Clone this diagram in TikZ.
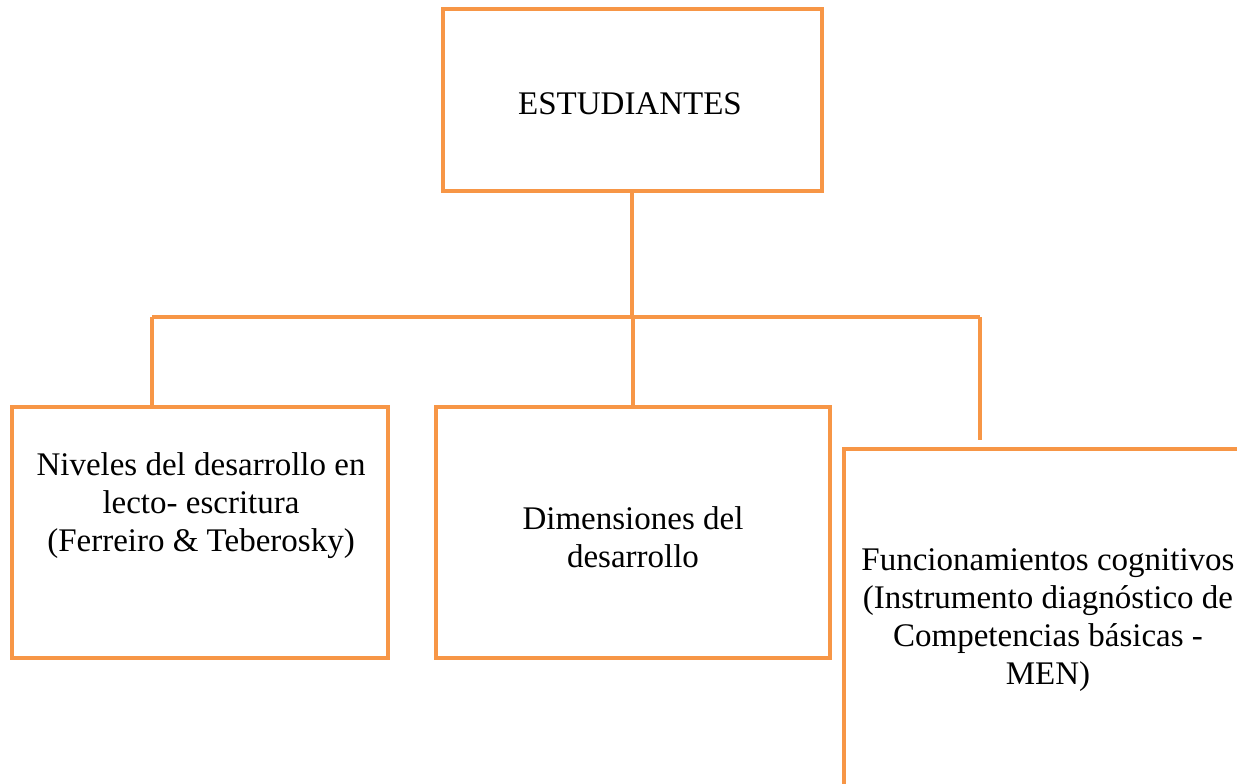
\documentclass[tikz,border=0pt]{standalone}
\usepackage{fontspec}
\setmainfont{Liberation Serif}
\definecolor{naranja}{HTML}{F79646}
\tikzset{
  caja/.style={draw=naranja, line width=4pt, rectangle, inner sep=0pt},
  rama/.style={draw=naranja, line width=4pt},
  texto/.style={align=center, inner sep=0pt, font=\fontsize{33}{38}\selectfont}
}

\begin{document}
\begin{tikzpicture}[x=1pt,y=-1pt]
        \useasboundingbox (0,0) rectangle (1237,784);
        \clip (0,0) rectangle (1237,784);

        % cajas
        \node[caja, minimum width=379pt, minimum height=182pt] (estudiantes) at (632,100) {};
        \node[caja, minimum width=376pt, minimum height=251pt] (niveles) at (200,532) {};
        \node[caja, minimum width=394pt, minimum height=251pt] (dimensiones) at (633,532) {};
        \node[caja, minimum width=408pt, minimum height=342pt] (funcionamientos) at (1048,620) {};

        % textos
        \node[texto] (tEstudiantes) at (630,104) {ESTUDIANTES};
        \node[texto] (tNiveles) at (201,506) {Niveles del desarrollo en\\lecto- escritura\\(Ferreiro \& Teberosky)};
        \node[texto] (tDimensiones) at (633,537) {Dimensiones del\\desarrollo};
        \node[texto] (tFuncionamientos) at (1048,620) {Funcionamientos cognitivos\\(Instrumento diagnóstico de\\Competencias básicas -\\MEN)};

        % ramas
        \coordinate (busL) at (152,317);
        \coordinate (busR) at (980,317);
        \coordinate (finR) at (980,440);
        \draw[rama] (estudiantes.south) -- (estudiantes.south |- busL);
        \draw[rama] (busL) -- (busR);
        \draw[rama] (busL) -- (busL |- niveles.north);
        \draw[rama] (dimensiones.north |- busL) -- (dimensiones.north);
        \draw[rama] (busR) -- (finR);
    \end{tikzpicture}
\end{document}
